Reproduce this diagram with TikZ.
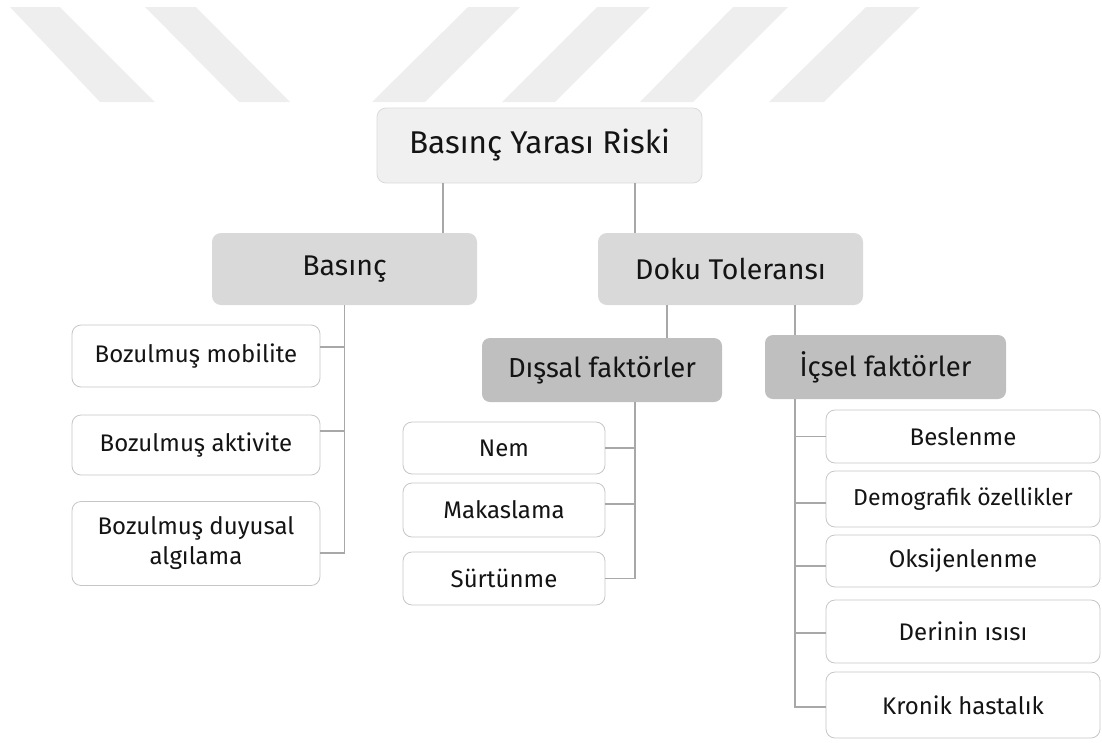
\documentclass[tikz,border=0pt]{standalone}
\usepackage{fontspec}
\setmainfont{Fira Sans}
\definecolor{stripe}{HTML}{EEEEEE}
\definecolor{rootfill}{HTML}{F0F0F0}
\definecolor{rootdraw}{HTML}{DADADA}
\definecolor{lvltwo}{HTML}{D9D9D9}
\definecolor{lvlthree}{HTML}{BFBFBF}
\definecolor{leafdraw}{HTML}{C6C6C6}
\definecolor{connc}{HTML}{A8A8A8}
\definecolor{txt}{HTML}{141414}
\begin{document}
\begin{tikzpicture}[x=1pt,y=-1pt,
  box/.style={rectangle,inner sep=0pt,align=center,text=txt},
  rootbox/.style={box,fill=rootfill,draw=rootdraw,line width=0.8pt,rounded corners=9pt,font=\fontsize{31.5}{36}\selectfont},
  twobox/.style={box,fill=lvltwo,rounded corners=9pt,font=\fontsize{28.5}{32}\selectfont},
  threebox/.style={box,fill=lvlthree,rounded corners=8pt,font=\fontsize{27.5}{30}\selectfont},
  leafbox/.style={box,fill=white,draw=leafdraw,line width=0.8pt,rounded corners=9pt,font=\fontsize{24}{30}\selectfont},
  conn/.style={draw=connc,line width=1.3pt}]
\useasboundingbox (0,0) rectangle (1102,742);
% background stripes
\fill[stripe] (10,7) -- (60,7) -- (155,102) -- (100,102) -- cycle;
\fill[stripe] (145,7) -- (196,7) -- (290,102) -- (239,102) -- cycle;
\fill[stripe] (468,7) -- (520,7) -- (425,102) -- (372,102) -- cycle;
\fill[stripe] (597,7) -- (650,7) -- (555,102) -- (502,102) -- cycle;
\fill[stripe] (733,7) -- (788,7) -- (693,102) -- (640,102) -- cycle;
\fill[stripe] (866,7) -- (920,7) -- (824,102) -- (769,102) -- cycle;
% nodes
\node[rootbox,minimum width=325pt,minimum height=75pt] (root) at (539.5,145.5) {Basınç Yarası Riski};
\node[twobox,minimum width=265pt,minimum height=72pt] (basinc) at (344.5,269) {Basınç};
\node[twobox,minimum width=265pt,minimum height=72pt] (doku) at (730.5,269) {Doku Toleransı};
\node[threebox,minimum width=240pt,minimum height=64pt] (dissal) at (602,370) {Dışsal faktörler};
\node[threebox,minimum width=241pt,minimum height=64pt] (icsel) at (885.5,367) {İçsel faktörler};
\node[leafbox,minimum width=248pt,minimum height=62pt] (mob) at (196,356) {Bozulmuş mobilite};
\node[leafbox,minimum width=248pt,minimum height=60pt] (akt) at (196,445) {Bozulmuş aktivite};
\node[leafbox,minimum width=248pt,minimum height=84pt] (duy) at (196,543.5) {Bozulmuş duyusal\\algılama};
\node[leafbox,minimum width=202pt,minimum height=52pt] (nem) at (504,448) {Nem};
\node[leafbox,minimum width=202pt,minimum height=54pt] (mak) at (504,510) {Makaslama};
\node[leafbox,minimum width=202pt,minimum height=53pt] (sur) at (504,578.5) {Sürtünme};
\node[leafbox,minimum width=274pt,minimum height=53pt] (bes) at (963,436.5) {Beslenme};
\node[leafbox,minimum width=274pt,minimum height=56pt,font=\fontsize{23}{28}\selectfont] (dem) at (963,499) {Demografik özellikler};
\node[leafbox,minimum width=274pt,minimum height=52pt] (oks) at (963,561) {Oksijenlenme};
\node[leafbox,minimum width=274pt,minimum height=63pt] (der) at (963,631.5) {Derinin ısısı};
\node[leafbox,minimum width=274pt,minimum height=66pt] (kro) at (963,705) {Kronik hastalık};
% trunk coordinates
\coordinate (rl) at ([xshift=-96.5pt]root.south);
\coordinate (rr) at ([xshift=95.5pt]root.south);
\coordinate (dl) at ([xshift=-63.5pt]doku.south);
\coordinate (dr) at ([xshift=64.5pt]doku.south);
\coordinate (dtr) at ([xshift=33pt]dissal.south);
\coordinate (itr) at ([xshift=-90.5pt]icsel.south);
% connectors
\draw[conn] (rl) -- (rl |- basinc.north);
\draw[conn] (rr) -- (rr |- doku.north);
\draw[conn] (dl) -- (dl |- dissal.north);
\draw[conn] (dr) -- (dr |- icsel.north);
% Basinc branch
\draw[conn] (basinc.south) |- ([yshift=-9.5pt]duy.east);
\draw[conn] ([yshift=9pt]mob.east) -- ([yshift=9pt]mob.east -| basinc.south);
\draw[conn] ([yshift=14pt]akt.east) -- ([yshift=14pt]akt.east -| basinc.south);
% Dissal branch
\draw[conn] (dtr) |- (sur.east);
\draw[conn] (nem.east) -- (nem.east -| dtr);
\draw[conn] ([yshift=6pt]mak.east) -- ([yshift=6pt]mak.east -| dtr);
% Icsel branch
\draw[conn] (itr) |- ([yshift=-2pt]kro.west);
\draw[conn] (bes.west) -- (bes.west -| itr);
\draw[conn] ([yshift=-4pt]dem.west) -- ([yshift=-4pt]dem.west -| itr);
\draw[conn] ([yshift=-5pt]oks.west) -- ([yshift=-5pt]oks.west -| itr);
\draw[conn] ([yshift=-1.5pt]der.west) -- ([yshift=-1.5pt]der.west -| itr);
\end{tikzpicture}
\end{document}
